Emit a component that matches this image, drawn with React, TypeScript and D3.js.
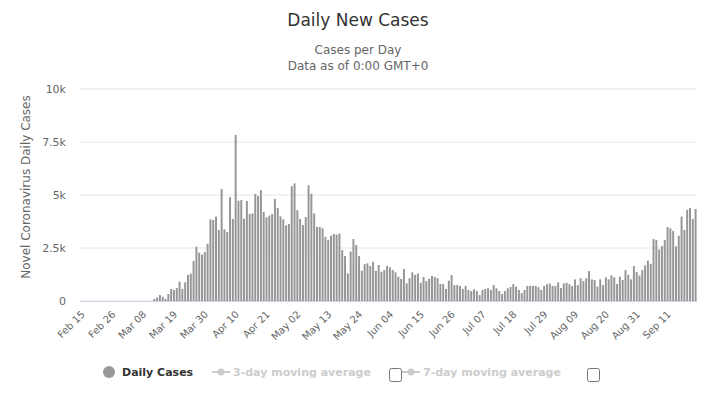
import React from "react";
import * as d3 from "d3";

const febValues = [0,0,0,0,0,0,0,0,0,0,0,0,0,0,0];
const marValues = [0,0,0,0,0,0,0,0,0,0,0,100,170,280,200,100,330,570,520,610,910,570,880,1230,1290,1890,2560,2280,2190,2310,2700];
const aprValues = [3850,3820,3980,3350,5280,3380,3250,4900,3870,7830,4730,4760,3880,4720,4100,4130,5050,4950,5230,4200,3950,4030,4100,4810,4390,3990,3850,3570,3630,5420];
const mayValues = [5550,4290,3870,3580,3960,5460,5060,4130,3490,3490,3430,3030,2880,3080,3160,3130,3180,2400,2120,1300,2330,2920,2640,2120,1430,1740,1780,1650,1850,1430,1700];
const junValues = [1380,1460,1650,1590,1460,1350,1150,1040,1510,830,1070,1350,1230,1300,860,1130,940,1050,1180,1130,1080,800,800,570,960,1230,750,750,710,570];
const julValues = [710,520,470,550,470,280,520,570,600,520,750,600,470,330,470,600,660,800,680,520,370,520,710,710,710,710,650,520,710,790,830];
const augValues = [710,710,880,610,830,860,790,710,1020,750,1070,940,1070,1410,1020,990,680,1020,750,1120,1020,1210,1120,800,1150,990,1460,1230,1020,1650,1370];
const sepValues = [1200,1460,1680,1900,1750,2920,2880,2430,2590,2880,3490,3430,3310,2580,3080,3980,3350,4300,4390,3870,4340];

const dailyCases = [...febValues, ...marValues, ...aprValues, ...mayValues, ...junValues, ...julValues, ...augValues, ...sepValues];

const fmt = d3.timeFormat("%b %d");
const categories = d3.timeDay.range(new Date(2020, 1, 15), new Date(2020, 8, 22)).map(fmt);

const tickLabels = ["Feb 15","Feb 26","Mar 08","Mar 19","Mar 30","Apr 10","Apr 21","May 02","May 13","May 24","Jun 04","Jun 15","Jun 26","Jul 07","Jul 18","Jul 29","Aug 09","Aug 20","Aug 31","Sep 11"];
const yTicks = [0, 2500, 5000, 7500, 10000];
const yTickLabels = ["0", "2.5k", "5k", "7.5k", "10k"];

const FONT = "'DejaVu Sans', Verdana, sans-serif";

export default function App() {
  const W = 716, H = 413;
  const left = 80, right = 697, top = 89, bottom = 301;
  const x = d3.scaleBand<string>().domain(categories).range([left, right]).paddingInner(0.3).paddingOuter(0.15);
  const y = d3.scaleLinear().domain([0, 10000]).range([bottom, top]);
  const center = (c: string) => (x(c) as number) + x.bandwidth() / 2;

  return (
    <svg width={W} height={H} style={{ position: "absolute", left: 0, top: 0, fontFamily: FONT }}>
      <rect x={0} y={0} width={W} height={H} fill="#fff" />
      <text x={358} y={26} textAnchor="middle" fontSize={17} fill="#333">Daily New Cases</text>
      <text x={358} y={54} textAnchor="middle" fontSize={12} fill="#666">Cases per Day</text>
      <text x={358} y={70} textAnchor="middle" fontSize={12} fill="#666">Data as of 0:00 GMT+0</text>

      {yTicks.map((t, i) => (
        <g key={t}>
          <line x1={left} x2={right} y1={y(t)} y2={y(t)} stroke="#e6e6e6" strokeWidth={1} />
          <text x={66} y={y(t) + 4} textAnchor="end" fontSize={11} fill="#666">{yTickLabels[i]}</text>
        </g>
      ))}
      <text transform={`translate(30,${(top + bottom) / 2 - 8}) rotate(-90)`} textAnchor="middle" fontSize={12} fill="#666">Novel Coronavirus Daily Cases</text>

      <line x1={left} x2={right} y1={bottom + 0.5} y2={bottom + 0.5} stroke="#ccd6eb" strokeWidth={1} />

      {dailyCases.map((v, i) => (
        v > 0 ? (
          <rect key={i} x={x(categories[i]) as number} y={y(v)} width={x.bandwidth()} height={bottom - y(v)} fill="#969696" />
        ) : null
      ))}

      {tickLabels.map((lab) => {
        const cx = center(lab);
        return (
          <text key={lab} transform={`translate(${cx + 4},${bottom + 14}) rotate(-45)`} textAnchor="end" fontSize={10} fill="#666">{lab}</text>
        );
      })}

      <g fontSize={11} fontWeight="bold">
        <circle cx={109} cy={372} r={6} fill="#999" />
        <text x={122} y={376} fill="#333">Daily Cases</text>
        <line x1={212} x2={230} y1={372} y2={372} stroke="#ccc" strokeWidth={2} />
        <circle cx={221} cy={372} r={3.5} fill="#ccc" />
        <text x={233} y={376} fill="#ccc">3-day moving average</text>
        <rect x={389.5} y={368.5} width={12} height={13} rx={2} fill="#fff" stroke="#767676" />
        <line x1={402} x2={420} y1={372} y2={372} stroke="#ccc" strokeWidth={2} />
        <circle cx={411} cy={372} r={3.5} fill="#ccc" />
        <text x={423} y={376} fill="#ccc">7-day moving average</text>
        <rect x={587.5} y={368.5} width={12} height={13} rx={2} fill="#fff" stroke="#767676" />
      </g>
    </svg>
  );
}
